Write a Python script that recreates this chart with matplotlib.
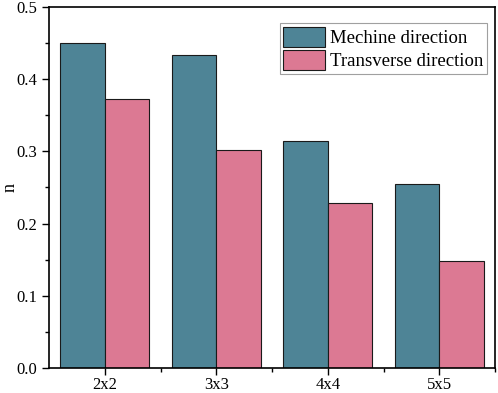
import numpy as np
import matplotlib.pyplot as plt
from matplotlib.ticker import MultipleLocator

plt.rcParams['font.family'] = ['Liberation Serif', 'DejaVu Serif']

categories = ['2x2', '3x3', '4x4', '5x5']
machine = [0.450, 0.434, 0.315, 0.255]
transverse = [0.372, 0.302, 0.229, 0.148]

fig = plt.figure(figsize=(4.98, 3.93), dpi=100)
ax = fig.add_axes([49 / 498, 25 / 393, 446 / 498, 361 / 393])

x = np.arange(len(categories))
w = 0.4
ax.bar(x - w / 2, machine, w, color='#4E8496', edgecolor='#1a1a1a', linewidth=0.8,
       label='Mechine direction')
ax.bar(x + w / 2, transverse, w, color='#DC7993', edgecolor='#1a1a1a', linewidth=0.8,
       label='Transverse direction')

ax.set_xlim(-0.5, 3.5)
ax.set_ylim(0, 0.5)
ax.set_xticks(x)
ax.set_xticklabels(categories)
ax.xaxis.set_minor_locator(plt.FixedLocator(x + 0.5))
ax.yaxis.set_major_locator(MultipleLocator(0.1))
ax.yaxis.set_minor_locator(MultipleLocator(0.05))
ax.yaxis.set_major_formatter(plt.FormatStrFormatter('%.1f'))
ax.tick_params(which='major', direction='out', length=5, width=1, labelsize=12)
ax.tick_params(which='minor', direction='out', length=3, width=1)
ax.tick_params(axis='x', which='major', pad=1.5)
for s in ax.spines.values():
    s.set_linewidth(1.2)
ax.set_ylabel('n', fontsize=13)
ax.yaxis.set_label_coords(-0.068, 0.5)

leg = ax.legend(loc='upper right', bbox_to_anchor=(0.983, 0.955), fontsize=13.5,
                fancybox=False, edgecolor='#888888', handlelength=2.2, handleheight=1.25,
                handletextpad=0.3, borderpad=0.2, labelspacing=0.15, borderaxespad=0)
leg.get_frame().set_linewidth(0.8)

fig.savefig('out.png', dpi=100)
